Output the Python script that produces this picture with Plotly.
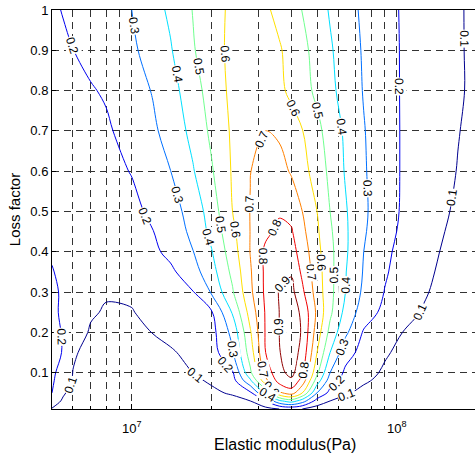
import numpy as np
import plotly.graph_objects as go

# Elastic modulus (Pa) grid columns
E = [5e6, 5.5e6, 6e6, 7e6, 8e6, 1e7, 1.2e7, 1.4e7, 1.7e7, 2e7, 2.4e7, 2.8e7, 3.2e7,
     3.6e7, 4e7, 4.4e7, 5e7, 5.6e7, 6.4e7, 7.5e7, 9e7, 1.05e8, 1.25e8, 1.45e8, 1.7e8, 2e8]
# Loss factor rows
eta = [0.01, 0.03, 0.05, 0.08, 0.1, 0.15, 0.2, 0.25, 0.3, 0.35, 0.4, 0.45, 0.5,
       0.6, 0.7, 0.8, 0.9, 1.0]

# values (rows follow eta, columns follow E)
Z = [
 [0.095,0.07,0.05,0.035,0.025,0.02,0.022,0.025,0.03,0.035,0.04,0.05,0.07,0.1,0.12,0.1,0.06,0.045,0.035,0.03,0.025,0.02,0.02,0.015,0.012,0.01],
 [0.14,0.09,0.065,0.04,0.03,0.025,0.03,0.035,0.045,0.06,0.075,0.1,0.2,0.38,0.45,0.35,0.16,0.1,0.075,0.055,0.045,0.035,0.03,0.025,0.02,0.015],
 [0.2,0.11,0.075,0.045,0.035,0.03,0.035,0.045,0.065,0.085,0.11,0.18,0.42,0.68,0.75,0.6,0.3,0.17,0.11,0.08,0.06,0.045,0.035,0.03,0.02,0.015],
 [0.21,0.16,0.09,0.055,0.04,0.035,0.045,0.06,0.085,0.11,0.16,0.38,0.67,0.84,0.88,0.76,0.45,0.25,0.16,0.11,0.08,0.06,0.045,0.035,0.025,0.02],
 [0.215,0.17,0.098,0.06,0.045,0.04,0.05,0.065,0.1,0.13,0.19,0.48,0.74,0.87,0.93,0.82,0.52,0.3,0.18,0.13,0.088,0.065,0.05,0.04,0.03,0.02],
 [0.22,0.197,0.11,0.075,0.055,0.055,0.07,0.09,0.125,0.155,0.29,0.55,0.8,0.895,0.95,0.87,0.6,0.4,0.24,0.165,0.11,0.08,0.06,0.045,0.035,0.025],
 [0.222,0.195,0.15,0.09,0.07,0.075,0.102,0.125,0.15,0.165,0.33,0.59,0.81,0.9,0.955,0.89,0.65,0.47,0.32,0.19,0.145,0.1,0.075,0.055,0.04,0.03],
 [0.22,0.185,0.155,0.11,0.092,0.097,0.118,0.14,0.165,0.19,0.41,0.64,0.81,0.9,0.95,0.88,0.68,0.52,0.37,0.25,0.175,0.138,0.095,0.07,0.05,0.035],
 [0.215,0.19,0.16,0.125,0.108,0.11,0.135,0.16,0.195,0.31,0.49,0.68,0.82,0.905,0.93,0.82,0.655,0.53,0.4,0.28,0.197,0.16,0.112,0.08,0.055,0.035],
 [0.205,0.18,0.155,0.125,0.112,0.125,0.15,0.18,0.26,0.36,0.525,0.69,0.82,0.88,0.89,0.78,0.645,0.53,0.405,0.293,0.21,0.165,0.125,0.09,0.06,0.04],
 [0.19,0.165,0.145,0.125,0.12,0.15,0.18,0.225,0.297,0.394,0.555,0.703,0.82,0.86,0.84,0.755,0.63,0.527,0.415,0.3,0.218,0.175,0.135,0.1,0.07,0.045],
 [0.175,0.16,0.145,0.13,0.14,0.165,0.197,0.246,0.321,0.427,0.577,0.702,0.78,0.82,0.81,0.725,0.615,0.515,0.415,0.31,0.235,0.183,0.145,0.11,0.075,0.05],
 [0.16,0.15,0.142,0.138,0.145,0.17,0.223,0.262,0.336,0.448,0.6,0.703,0.76,0.79,0.77,0.7,0.6,0.5,0.41,0.315,0.243,0.19,0.15,0.119,0.085,0.06],
 [0.15,0.145,0.143,0.15,0.165,0.205,0.258,0.299,0.392,0.49,0.61,0.698,0.74,0.735,0.69,0.635,0.556,0.478,0.392,0.31,0.24,0.193,0.157,0.128,0.097,0.072],
 [0.145,0.145,0.152,0.17,0.186,0.238,0.284,0.336,0.428,0.52,0.615,0.67,0.7,0.685,0.65,0.603,0.526,0.458,0.384,0.305,0.24,0.193,0.16,0.132,0.103,0.078],
 [0.15,0.16,0.172,0.193,0.21,0.26,0.305,0.36,0.46,0.54,0.625,0.67,0.665,0.625,0.575,0.537,0.48,0.424,0.362,0.295,0.236,0.193,0.163,0.137,0.11,0.082],
 [0.168,0.184,0.199,0.225,0.247,0.285,0.335,0.392,0.491,0.56,0.625,0.66,0.645,0.61,0.567,0.525,0.466,0.411,0.354,0.29,0.234,0.193,0.163,0.137,0.109,0.082],
 [0.185,0.204,0.218,0.243,0.265,0.30,0.362,0.418,0.503,0.562,0.62,0.64,0.615,0.573,0.534,0.498,0.442,0.392,0.339,0.283,0.23,0.192,0.162,0.136,0.109,0.081],
]

# contour labels: (level, loss factor where the label sits, which crossing from the left)
label_level = [0.2, 0.3, 0.4, 0.5, 0.6, 0.6, 0.5, 0.4, 0.2, 0.1,
               0.7, 0.7, 0.3, 0.2, 0.6, 0.5, 0.4, 0.8, 0.8, 0.9,
               0.7, 0.6, 0.5, 0.4, 0.3, 0.1, 0.2, 0.1, 0.9, 0.3,
               0.2, 0.1, 0.7, 0.6, 0.4, 0.8, 0.3, 0.2, 0.1, 0.1]
label_eta = [0.913, 0.96, 0.84, 0.86, 0.89, 0.757, 0.75, 0.71, 0.81, 0.93,
             0.68, 0.52, 0.54, 0.49, 0.455, 0.467, 0.437, 0.46, 0.39, 0.32,
             0.35, 0.373, 0.343, 0.318, 0.558, 0.536, 0.19, 0.07, 0.214, 0.157,
             0.12, 0.095, 0.107, 0.06, 0.045, 0.107, 0.165, 0.075, 0.045, 0.25]
label_pick = [0, 0, 0, 0, 0, 1, 1, 1, -1, -1,
              0, 0, 0, 0, 0, 0, 0, 0, 0, 0,
              1, 1, 1, 1, 1, -1, 0, 0, 0, 0,
              1, 1, 0, 0, 0, 1, -1, -1, -1, -1]

level_colors = ["#00008F", "#0000F0", "#0070FF", "#00E0FF", "#70FF8F",
                "#FFE000", "#FF8000", "#F00000", "#900000"]

major_E = [1e7, 1e8]
major_text = ["10<sup>7</sup>", "10<sup>8</sup>"]
minor_E = [6e6, 7e6, 8e6, 9e6, 2e7, 3e7, 4e7, 5e7, 6e7, 7e7, 8e7, 9e7, 2e8]
y_ticks = [0.1, 0.2, 0.3, 0.4, 0.5, 0.6, 0.7, 0.8, 0.9, 1.0]
y_text = ["0.1", "0.2", "0.3", "0.4", "0.5", "0.6", "0.7", "0.8", "0.9", "1"]

# ---- layout geometry
W, H = 475, 461
ML, MR, MT, MB = 52, 0, 10, 52
X0, X1 = np.log10(5e6), 8.295
Y0, Y1 = 0.01, 1.0
SX = (W - ML - MR) / (X1 - X0)
SY = (H - MT - MB) / (Y1 - Y0)

LX = np.log10(E)
ZA = np.array(Z)
ETA = np.array(eta)


def z_at(lx, e):
    row = np.array([np.interp(e, ETA, ZA[:, j]) for j in range(len(LX))])
    return np.interp(lx, LX, row)


def label_annotation(level, e, pick):
    row = np.array([np.interp(e, ETA, ZA[:, j]) for j in range(len(LX))])
    xs = np.linspace(LX[0], LX[-1], 4000)
    v = np.interp(xs, LX, row) - level
    idx = np.where(np.sign(v[:-1]) != np.sign(v[1:]))[0]
    if len(idx) == 0 or pick >= len(idx) or -pick > len(idx):
        return None
    i = idx[pick]
    xc = xs[i] - v[i] * (xs[i + 1] - xs[i]) / (v[i + 1] - v[i])
    h, k = 0.004, 0.004
    dzx = (z_at(xc + h, e) - z_at(xc - h, e)) / (2 * h) / SX
    dzy = -(z_at(xc, min(e + k, 1.0)) - z_at(xc, max(e - k, 0.01))) / (
        min(e + k, 1.0) - max(e - k, 0.01)) / SY
    tx, ty = -dzy, dzx
    ang = np.degrees(np.arctan2(ty, tx))
    if ang > 90:
        ang -= 180
    if ang <= -90:
        ang += 180
    return dict(text=f"{level:.1f}", x=xc, y=e, xref="x", yref="y", showarrow=False,
                textangle=float(ang), bgcolor="white", borderpad=0,
                font=dict(family=FAM, size=12, color="black"))


cs = [[i / 8, c] for i, c in enumerate(level_colors)]
FAM = "Liberation Sans, Arial, Helvetica"
GRID = dict(showgrid=True, gridcolor="#333333", griddash="7px,5px", gridwidth=1)

fig = go.Figure(go.Contour(
    x=LX, y=eta, z=Z,
    zmin=0.1, zmax=0.9, autocontour=False,
    contours=dict(start=0.1, end=0.9, size=0.1, coloring="lines", showlabels=False),
    line=dict(width=1, smoothing=1.0),
    colorscale=cs, showscale=False,
))

annots = []
for lv, e, p in zip(label_level, label_eta, label_pick):
    a = label_annotation(lv, e, p)
    if a is not None:
        annots.append(a)
annots.append(dict(text="Elastic modulus(Pa)", xref="paper", yref="paper",
                   x=0.551, y=-0.089, xanchor="center", yanchor="middle",
                   showarrow=False, font=dict(family=FAM, size=16, color="black")))

fig.update_layout(
    width=W, height=H,
    margin=dict(l=ML, r=MR, t=MT, b=MB),
    paper_bgcolor="white", plot_bgcolor="white",
    font=dict(family=FAM, size=13, color="black"), showlegend=False,
    xaxis=dict(range=[X0, X1], tickmode="array",
               tickvals=np.log10(major_E), ticktext=major_text,
               ticklabelstandoff=7,
               showline=True, linecolor="black", linewidth=1, mirror=True,
               ticks="inside", ticklen=5, tickcolor="black", zeroline=False,
               minor=dict(tickmode="array", tickvals=list(np.log10(minor_E)),
                          ticks="inside", ticklen=3, tickcolor="black", **GRID),
               **GRID),
    yaxis=dict(range=[Y0, Y1], tickmode="array", tickvals=y_ticks, ticktext=y_text,
               showline=True, linecolor="black", linewidth=1, mirror=False,
               ticks="inside", ticklen=4, tickcolor="black", zeroline=False,
               title=dict(text="Loss factor", standoff=6,
                          font=dict(family=FAM, size=15, color="black")), **GRID),
    annotations=annots,
)
fig.write_html("out.html")
